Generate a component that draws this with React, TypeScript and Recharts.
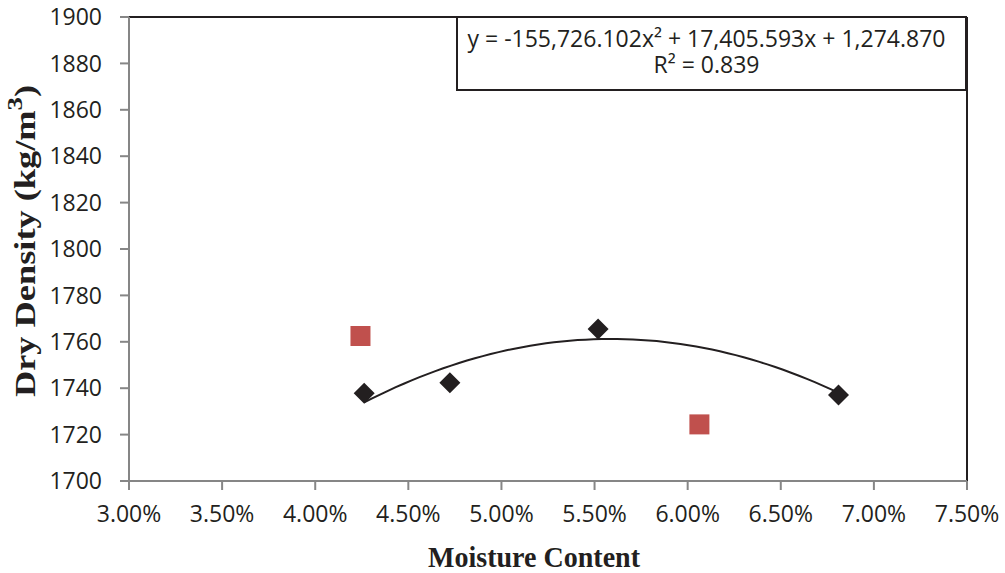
import {
  ComposedChart, XAxis, YAxis, Scatter, Line, ReferenceLine, Label,
} from 'recharts';

// measured points (moisture as a fraction, dry density in kg/m3)
const moisture = [0.04263, 0.04723, 0.05519, 0.0681];
const density = [1737.8, 1742.4, 1765.5, 1737.1];

// the two red points left out of the fit
const excludedMoisture = [0.04243, 0.06063];
const excludedDensity = [1762.5, 1724.4];

// polynomial fit: a*x^2 + b*x + c
const fitCoef = [-155726.102, 17405.593, 1274.870];
const fitR2 = 0.839;

const xTicks = [0.03, 0.035, 0.04, 0.045, 0.05, 0.055, 0.06, 0.065, 0.07, 0.075];
const yTicks = [1700, 1720, 1740, 1760, 1780, 1800, 1820, 1840, 1860, 1880, 1900];

const points = moisture.map((x, i) => ({ x, y: density[i] }));
const excluded = excludedMoisture.map((x, i) => ({ x, y: excludedDensity[i] }));

const fitAt = (x: number) => fitCoef[0] * x * x + fitCoef[1] * x + fitCoef[2];
const xMin = Math.min(...moisture);
const xMax = Math.max(...moisture);
const trend = Array.from({ length: 61 }, (_, i) => {
  const x = xMin + ((xMax - xMin) * i) / 60;
  return { x, y: fitAt(x) };
});

const fmt = (n: number, d: number) =>
  n.toLocaleString('en-US', { minimumFractionDigits: d, maximumFractionDigits: d });

const AXIS = '#868686';
const INK = '#231f20';
const TICK_FONT = { fontFamily: 'Open Sans', fontSize: 23, fill: '#231f20' };

const Diamond = (p: any) => {
  const { cx, cy } = p;
  const r = 10.5;
  return (
    <path
      d={`M${cx},${cy - r}L${cx + r},${cy}L${cx},${cy + r}L${cx - r},${cy}Z`}
      fill={INK}
    />
  );
};

const Square = (p: any) => {
  const { cx, cy } = p;
  return <rect x={cx - 10} y={cy - 10} width={20} height={20} fill="#c0504d" />;
};

const YTitle = () => (
  <text
    x={35}
    y={241}
    transform="rotate(-90, 35, 241)"
    textAnchor="middle"
    fontFamily="Liberation Serif"
    fontWeight="bold"
    fontSize={30}
    fill={INK}
    textLength={312}
    lengthAdjust="spacingAndGlyphs"
  >
    Dry Density (kg/m<tspan dy={-13} fontSize={22}>3</tspan><tspan dy={13}>)</tspan>
  </text>
);

const XTitle = () => (
  <text
    x={534}
    y={567}
    textAnchor="middle"
    fontFamily="Liberation Serif"
    fontWeight="bold"
    fontSize={30}
    fill={INK}
    textLength={212}
    lengthAdjust="spacingAndGlyphs"
  >
    Moisture Content
  </text>
);

export default function App() {
  return (
    <div style={{ position: 'absolute', left: 0, top: 0, width: 1005, height: 573, background: '#fff' }}>
      <ComposedChart
        width={1005}
        height={573}
        margin={{ top: 17, right: 38, left: 0, bottom: 0 }}
      >
        <XAxis
          type="number"
          dataKey="x"
          domain={[0.03, 0.075]}
          ticks={xTicks}
          tickFormatter={(v: number) => `${(v * 100).toFixed(2)}%`}
          height={92}
          tickSize={9}
          tickMargin={16}
          stroke={AXIS}
          strokeWidth={2}
          tick={TICK_FONT}
          interval={0}
        >
          <Label content={XTitle} />
        </XAxis>
        <YAxis
          type="number"
          dataKey="y"
          domain={[1700, 1900]}
          ticks={yTicks}
          width={129}
          tickSize={9}
          tickMargin={18}
          stroke={AXIS}
          strokeWidth={2}
          tick={TICK_FONT}
          interval={0}
        >
          <Label content={YTitle} />
        </YAxis>
        <ReferenceLine y={1900} stroke={INK} strokeWidth={2} />
        <ReferenceLine x={0.075} stroke={INK} strokeWidth={2} />
        <Line
          data={trend}
          dataKey="y"
          type="linear"
          stroke={INK}
          strokeWidth={2}
          dot={false}
          activeDot={false}
          isAnimationActive={false}
        />
        <Scatter data={excluded} shape={Square} isAnimationActive={false} />
        <Scatter data={points} shape={Diamond} isAnimationActive={false} />
      </ComposedChart>
      <div
        style={{
          position: 'absolute',
          left: 456,
          top: 16,
          width: 511,
          height: 75,
          border: `2px solid ${INK}`,
          background: '#fff',
          fontFamily: 'Open Sans',
          fontSize: 23,
          lineHeight: '26px',
          color: INK,
          textAlign: 'center',
          paddingTop: 7,
          paddingRight: 10,
          boxSizing: 'border-box',
        }}
      >
        <div>
          y = {fmt(fitCoef[0], 3)}x² + {fmt(fitCoef[1], 3)}x + {fmt(fitCoef[2], 3)}
        </div>
        <div>R² = {fitR2.toFixed(3)}</div>
      </div>
    </div>
  );
}
